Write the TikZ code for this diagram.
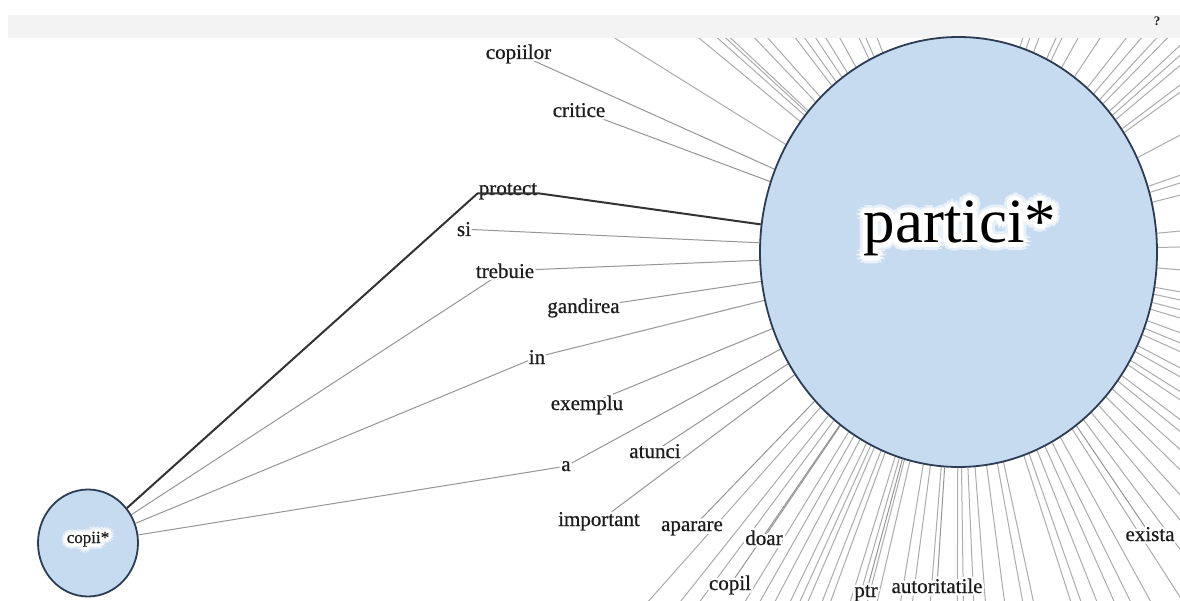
\documentclass[tikz,border=0pt]{standalone}
\usepackage{fontspec}
\setmainfont{Liberation Serif}
\newfontfamily\wordfont[FakeBold=0.6]{Liberation Serif}
\usetikzlibrary{shapes.geometric}
\pgfdeclarelayer{edges}
\pgfsetlayers{edges,main}

\definecolor{bubble}{RGB}{198,218,240}
\definecolor{rim}{RGB}{44,60,84}
\definecolor{spokegray}{RGB}{172,172,172}
\definecolor{linkgray}{RGB}{150,150,150}
\definecolor{ink}{RGB}{28,28,28}
\definecolor{barfill}{RGB}{243,243,243}

% white halo behind a word: copies of the text shifted round a ring
\newcommand\glowring[3]{%
  \foreach \g in {0,30,...,330}{%
    \pgfmathsetmacro\gx{(#1)*cos(\g)}\pgfmathsetmacro\gy{(#1)*sin(\g)}%
    \rlap{\hspace{\gx pt}\raisebox{\gy pt}{\color{#2}#3}}}}
\newcommand\glow[2]{\leavevmode\rlap{\glowring{#1}{white}{#2}\glowring{#1/2}{white}{#2}}#2}
\newcommand\softglow[2]{\leavevmode\rlap{\glowring{#1*1.6}{white!60!bubble}{#2}\glowring{#1}{white}{#2}\glowring{#1/2}{white}{#2}}#2}

\tikzset{
  word/.style={font=\wordfont\fontsize{21}{24}\selectfont, text=ink, inner sep=1pt, anchor=base},
  link/.style={draw=linkgray, line width=1pt},
  spoke/.style={draw=spokegray, line width=1pt},
  strong/.style={draw=black!80, line width=2pt},
  bubblenode/.style={ellipse, draw=rim, line width=1.8pt, fill=bubble, inner sep=0pt},
}

\begin{document}
\begin{tikzpicture}[x=1pt,y=-1pt]
\useasboundingbox (0,0) rectangle (1180,601);

% top toolbar strip
\fill[barfill] (8,15) rectangle (1180,38);
\node[font=\bfseries\fontsize{13}{14}\selectfont, text=ink, inner sep=0pt] (help) at (1157,21) {?};

% the two bubbles
\node[bubblenode, minimum width=397pt, minimum height=430pt] (P) at (958.5,252) {};
\node[anchor=base, font=\fontsize{63}{70}\selectfont, text=black, inner sep=0pt] (Plabel) at (960,243) {\softglow{5}{partici*}};
\node[bubblenode, minimum width=100pt, minimum height=107pt] (C) at (88,543) {};
\node[word, font=\wordfont\fontsize{17}{20}\selectfont] (Clabel) at (88,543) {\softglow{3.5}{copii*}};

% words
\node[word] (n-copiilor)     at (518.5,59) {\glow{2.5}{copiilor}};
\node[word] (n-critice)      at (579,117)  {\glow{2.5}{critice}};
\node[word] (n-protect)      at (508,195)  {\glow{2.5}{protect}};
\node[word] (n-si)           at (464,236)  {\glow{2.5}{si}};
\node[word] (n-trebuie)      at (505,278)  {\glow{2.5}{trebuie}};
\node[word] (n-gandirea)     at (583.5,313){\glow{2.5}{gandirea}};
\node[word] (n-in)           at (537,364)  {\glow{2.5}{in}};
\node[word] (n-exemplu)      at (587,410)  {\glow{2.5}{exemplu}};
\node[word] (n-a)            at (566,471)  {\glow{2.5}{a}};
\node[word] (n-atunci)       at (655,458)  {\glow{2.5}{atunci}};
\node[word] (n-important)    at (599,526)  {\glow{2.5}{important}};
\node[word] (n-aparare)      at (692,531)  {\glow{2.5}{aparare}};
\node[word] (n-doar)         at (764,545)  {\glow{2.5}{doar}};
\node[word] (n-copil)        at (730,590)  {\glow{2.5}{copil}};
\node[word] (n-ptr)          at (866,597)  {\glow{2.5}{ptr}};
\node[word] (n-autoritatile) at (937,593)  {\glow{2.5}{autoritatile}};
\node[word] (n-exista)       at (1150,541) {\glow{2.5}{exista}};

% connectors, kept underneath the words
\begin{pgfonlayer}{edges}
  \fill[white] (0,0) rectangle (1180,601);
  \clip (0,38) rectangle (1180,601);
  \foreach \w in {copiilor,critice,si,trebuie,gandirea,in,exemplu,a,atunci,
                  important,aparare,doar,copil,ptr,autoritatile,exista}
    \draw[link] (n-\w.center) -- (P);
  \foreach \w in {trebuie,in,a}
    \draw[link] (C) -- (n-\w.center);
  % links to words lying outside the frame
  \foreach \ang [count=\i] in {
      131.6,128.5,126.5,121.4,119.6,117.7,115.7,114.4,113.3,111.3,
      110.1,107.2,106.0,104.6,103.1,99.4,97.5,94.6,90.2,89.2,87.5,85.6,82.5,
      79.6,77.9,72.2,70.7,68.4,66.0,63.8,61.2,
      57.3,53.3,50.4,47.6,44.5,41.7,39.0,37.1,33.7,32.2,29.4,27.6,24.2,22.3,
      20.0,16.6,14.6,12.2,10.2,4.6,-1.3,-5.4,-14.4,-17.3,-19.1,-27.8,-35.8,
      -37.0,-40.1,-41.6,-43.0,
      -45.7,-47.2,-49.5,-51.9,-56.5,-60.8,-64.2,-65.5,-69.4,-71.6,-73.3,
      -110.8,-113.4,-114.9,-119.0,-121.8,-123.7,-125.7,-127.3,-131.7,-133.6,
      -136.8,-137.4,-138.4,-140.5,-148.1}{
    \coordinate (far\i) at ([shift={(\ang:900)}]P.center);
    \draw[spoke] (P) -- (far\i);
  }
\end{pgfonlayer}

% the highlighted path copii* -> protect -> partici*
\draw[strong] (C) -- ([yshift=-2pt]n-protect.west) -- ([yshift=-2pt]n-protect.east) -- (P);
\end{tikzpicture}
\end{document}
